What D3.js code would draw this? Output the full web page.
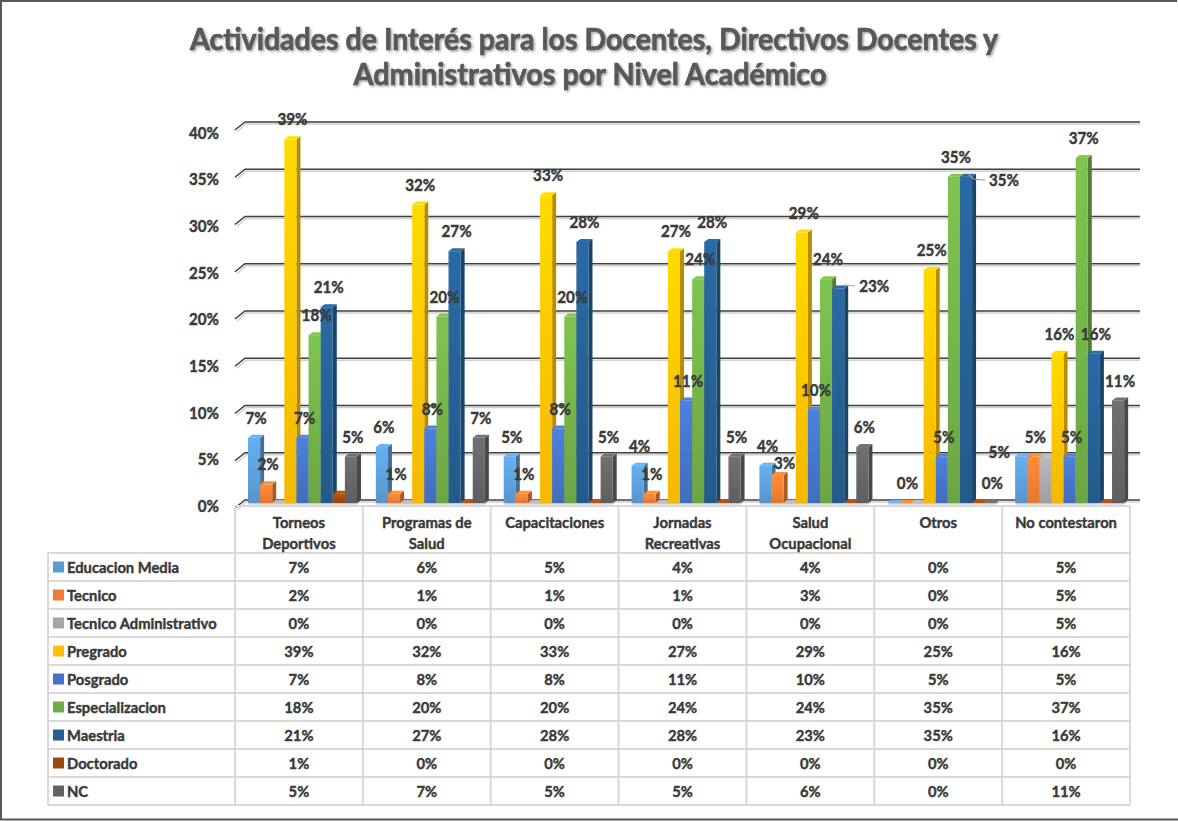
<!DOCTYPE html>
<html><head><meta charset="utf-8">
<script src="https://cdn.jsdelivr.net/npm/d3@7"></script>
<style>body{margin:0;background:#fff}svg{display:block}</style>
</head><body>
<svg id="c" width="1178" height="821"></svg>
<script>
// ---- data ----
const titleLines = ["Actividades de Interés para los Docentes, Directivos Docentes y", "Administrativos por Nivel Académico"];
const categories = ["Torneos Deportivos", "Programas de Salud", "Capacitaciones", "Jornadas Recreativas", "Salud Ocupacional", "Otros", "No contestaron"];
const categoryLines = [["Torneos", "Deportivos"], ["Programas de", "Salud"], ["Capacitaciones"], ["Jornadas", "Recreativas"], ["Salud", "Ocupacional"], ["Otros"], ["No contestaron"]];
const series = ["Educacion Media", "Tecnico", "Tecnico Administrativo", "Pregrado", "Posgrado", "Especializacion", "Maestria", "Doctorado", "NC"];
const colors = ["#5B9BD5", "#ED7D31", "#A5A5A5", "#FFC000", "#4472C4", "#70AD47", "#255E91", "#9E480E", "#636363"];
const educacionMedia = [0.07, 0.06, 0.05, 0.04, 0.04, 0.00, 0.05];
const tecnico        = [0.02, 0.01, 0.01, 0.01, 0.03, 0.00, 0.05];
const tecnicoAdmin   = [0.00, 0.00, 0.00, 0.00, 0.00, 0.00, 0.05];
const pregrado       = [0.39, 0.32, 0.33, 0.27, 0.29, 0.25, 0.16];
const posgrado       = [0.07, 0.08, 0.08, 0.11, 0.10, 0.05, 0.05];
const especializacion= [0.18, 0.20, 0.20, 0.24, 0.24, 0.35, 0.37];
const maestria       = [0.21, 0.27, 0.28, 0.28, 0.23, 0.35, 0.16];
const doctorado      = [0.01, 0.00, 0.00, 0.00, 0.00, 0.00, 0.00];
const nc             = [0.05, 0.07, 0.05, 0.05, 0.06, 0.00, 0.11];
const values = [educacionMedia, tecnico, tecnicoAdmin, pregrado, posgrado, especializacion, maestria, doctorado, nc];
const yTicks = [0, 0.05, 0.10, 0.15, 0.20, 0.25, 0.30, 0.35, 0.40];

// label visibility / placement tweaks ("category,series")
const hiddenSeriesLabels = [2, 7];
const hiddenLabels = ["5,0"];
const labelTweaks = { "4,6": {dx: 34, dy: 17.5, leader: true}, "5,6": {dx: 36, dy: 23.5, leader: true}, "6,0": {dx: -24, dy: 15}, "4,1": {dx: 5, dy: 8} };

// ---- layout ----
const svg = d3.select("#c");
const FONT = "Lato,'Open Sans',sans-serif";
const W = "bold";
const TXT = "#3a3a3a";
const defs = svg.append("defs");
const f = defs.append("filter").attr("id", "tsh").attr("x", "-5%").attr("y", "-20%").attr("width", "110%").attr("height", "150%");
f.append("feDropShadow").attr("dx", 1.5).attr("dy", 1.5).attr("stdDeviation", 1).attr("flood-color", "#000").attr("flood-opacity", 0.35);

colors.forEach((c, j) => {
  const g = defs.append("linearGradient").attr("id", "g" + j).attr("x1", 0).attr("y1", 0).attr("x2", 0).attr("y2", 1);
  g.append("stop").attr("offset", "0%").attr("stop-color", d3.color(c).brighter(0.35));
  g.append("stop").attr("offset", "100%").attr("stop-color", d3.color(c).darker(0.12));
});

// horizontal squeeze helper: scale text widths so a sample string gets the target width
function squeezeFactor(sample, size, target) {
  const t = svg.append("text").attr("font-family", FONT).attr("font-weight", W).attr("font-size", size).text(sample);
  const w = t.node().getComputedTextLength(); t.remove();
  return Math.min(1, target / w);
}
function squeeze(sel, k) {
  sel.each(function () {
    const w = this.getComputedTextLength();
    d3.select(this).attr("textLength", w * k).attr("lengthAdjust", "spacingAndGlyphs");
  });
}
function heavy(sel, sw) { sel.attr("stroke", TXT).attr("stroke-width", sw).attr("stroke-linejoin", "round"); }
const LAB = 17.5, TAB = 16;
const kLab = squeezeFactor("39%", LAB, 30);
const kTab = squeezeFactor("Educacion Media", TAB, 112);

// outer frame
svg.append("path").attr("d", "M1177,1 H1 V819.5 H1178").attr("fill", "none").attr("stroke", "#595959").attr("stroke-width", 2);

// title
svg.append("g").attr("filter", "url(#tsh)").selectAll("text").data(titleLines).join("text")
  .attr("x", (d, i) => i === 0 ? 594 : 590).attr("y", (d, i) => 50 + i * 35)
  .attr("text-anchor", "middle")
  .attr("font-family", FONT).attr("font-weight", W).attr("font-size", 30.5)
  .attr("fill", "#595959").attr("stroke", "#595959").attr("stroke-width", 0.7).attr("stroke-linejoin", "round")
  .attr("textLength", (d, i) => i === 0 ? 808 : 473).attr("lengthAdjust", "spacingAndGlyphs")
  .text(d => d);

// scales
const x0 = d3.scaleBand().domain(d3.range(categories.length)).range([235, 1130]);
const x1 = d3.scaleBand().domain(d3.range(series.length)).range([13, 13 + 109]);
const y = d3.scaleLinear().domain([0, 0.4]).range([503, 130]);
const yWall = d3.scaleLinear().domain([0, 0.4]).range([500, 122]);
const yLab = d3.scaleLinear().domain([0, 0.4]).range([506, 132.5]);
const DX = 4, DY = 3, WALL = 10;
const pct = d3.format(".0%");

// gridlines (3D back wall)
const grid = svg.append("g");
grid.selectAll("path.sh").data(yTicks).join("path").attr("class", "sh")
  .attr("d", t => `M${235 + 2},${yWall(t) + 8 + 2} L${235 + WALL + 1},${yWall(t) + 2} L1140,${yWall(t) + 2}`)
  .attr("fill", "none").attr("stroke", "#d0d0d0").attr("stroke-width", 1.5);
grid.selectAll("path.ln").data(yTicks).join("path").attr("class", "ln")
  .attr("d", t => `M235,${yWall(t) + 8} L${235 + WALL},${yWall(t)} L1140,${yWall(t)}`)
  .attr("fill", "none").attr("stroke", "#3f3f3f").attr("stroke-width", 1.6);

// y axis labels
svg.append("g").selectAll("text").data(yTicks).join("text")
  .attr("x", 219).attr("y", t => yLab(t)).attr("dy", "0.35em").attr("text-anchor", "end")
  .attr("font-family", FONT).attr("font-weight", W).attr("font-size", LAB).attr("fill", TXT)
  .text(t => pct(t)).call(squeeze, kLab).call(heavy, 0.5);

// bars
const bw = x1.bandwidth();
const bars = svg.append("g");
categories.forEach((cat, i) => {
  const gx = x0(i);
  bars.append("path")
    .attr("d", `M${gx + x1(0)},${y(0) + 1.5} L${gx + x1(0) + DX},${y(0) - DY} L${gx + x1(series.length - 1) + bw + DX},${y(0) - DY} L${gx + x1(series.length - 1) + bw},${y(0) + 1.5}Z`)
    .attr("fill", "#c8c8c8");
  series.forEach((s, j) => {
    const v = values[j][i];
    const x = gx + x1(j), top = y(v), bot = y(0);
    const c = d3.color(colors[j]);
    bars.append("path").attr("d", `M${x + bw},${top} L${x + bw + DX},${top - DY} L${x + bw + DX},${bot - DY} L${x + bw},${bot}Z`)
      .attr("fill", c.darker(0.9));
    bars.append("path").attr("d", `M${x},${top} L${x + DX},${top - DY} L${x + bw + DX},${top - DY} L${x + bw},${top}Z`)
      .attr("fill", c.brighter(0.4));
    if (bot - top > 0) bars.append("rect").attr("x", x).attr("y", top).attr("width", bw).attr("height", bot - top)
      .attr("fill", `url(#g${j})`);
  });
});

// data labels
const labels = svg.append("g");
categories.forEach((cat, i) => {
  series.forEach((s, j) => {
    if (hiddenSeriesLabels.includes(j) || hiddenLabels.includes(i + "," + j)) return;
    const v = values[j][i];
    const cx = x0(i) + x1(j) + bw / 2 + 2;
    const tw = labelTweaks[i + "," + j] || {dx: 0, dy: 0};
    const lx = cx + tw.dx, ly = y(v) - 20 + tw.dy;
    if (tw.leader) {
      labels.append("path").attr("d", `M${cx},${y(v) - 3} L${cx + 6},${ly - 1} L${lx - 19},${ly}`)
        .attr("fill", "none").attr("stroke", "#a6a6a6").attr("stroke-width", 1.2);
    }
    labels.append("text").attr("x", lx).attr("y", ly).attr("dy", "0.35em").attr("text-anchor", "middle")
      .attr("font-family", FONT).attr("font-weight", W).attr("font-size", LAB).attr("fill", TXT)
      .text(pct(v)).call(squeeze, kLab).call(heavy, 0.5);
  });
});

// data table
const table = svg.append("g");
const rowH = 28, tTop = 506, rTop = 553, leftX = 48, rightX = 1130;
const rowY = r => rTop + r * rowH;
const lineCol = "#d9d9d9";
table.selectAll("line.h").data(d3.range(series.length + 1)).join("line").attr("class", "h")
  .attr("x1", leftX).attr("x2", rightX).attr("y1", r => rowY(r)).attr("y2", r => rowY(r))
  .attr("stroke", lineCol).attr("stroke-width", 2);
table.append("line").attr("x1", 235).attr("x2", rightX).attr("y1", tTop).attr("y2", tTop).attr("stroke", lineCol).attr("stroke-width", 2);
table.selectAll("line.v").data(d3.range(categories.length + 1)).join("line").attr("class", "v")
  .attr("x1", k => k < categories.length ? x0(k) : rightX).attr("x2", k => k < categories.length ? x0(k) : rightX)
  .attr("y1", tTop).attr("y2", rowY(series.length)).attr("stroke", lineCol).attr("stroke-width", 2);
table.append("line").attr("x1", leftX).attr("x2", leftX).attr("y1", rTop).attr("y2", rowY(series.length)).attr("stroke", lineCol).attr("stroke-width", 2);

// header
categoryLines.forEach((lines, i) => {
  lines.forEach((ln, k) => {
    table.append("text").attr("x", x0(i) + x0.bandwidth() / 2).attr("y", 522 + k * 21).attr("dy", "0.35em")
      .attr("text-anchor", "middle").attr("font-family", FONT).attr("font-weight", W).attr("font-size", TAB).attr("fill", TXT)
      .text(ln).call(squeeze, kTab).call(heavy, 0.45);
  });
});
// rows
series.forEach((s, j) => {
  const cy = rowY(j) + rowH / 2;
  table.append("rect").attr("x", 53).attr("y", cy - 5.5).attr("width", 11).attr("height", 11).attr("fill", colors[j]);
  table.append("text").attr("x", 67).attr("y", cy).attr("dy", "0.35em")
    .attr("font-family", FONT).attr("font-weight", W).attr("font-size", TAB).attr("fill", TXT).text(s).call(squeeze, kTab).call(heavy, 0.45);
  categories.forEach((c, i) => {
    table.append("text").attr("x", x0(i) + x0.bandwidth() / 2).attr("y", cy).attr("dy", "0.35em")
      .attr("text-anchor", "middle").attr("font-family", FONT).attr("font-weight", W).attr("font-size", TAB).attr("fill", TXT)
      .text(pct(values[j][i])).call(squeeze, kTab).call(heavy, 0.45);
  });
});
</script>
</body></html>
